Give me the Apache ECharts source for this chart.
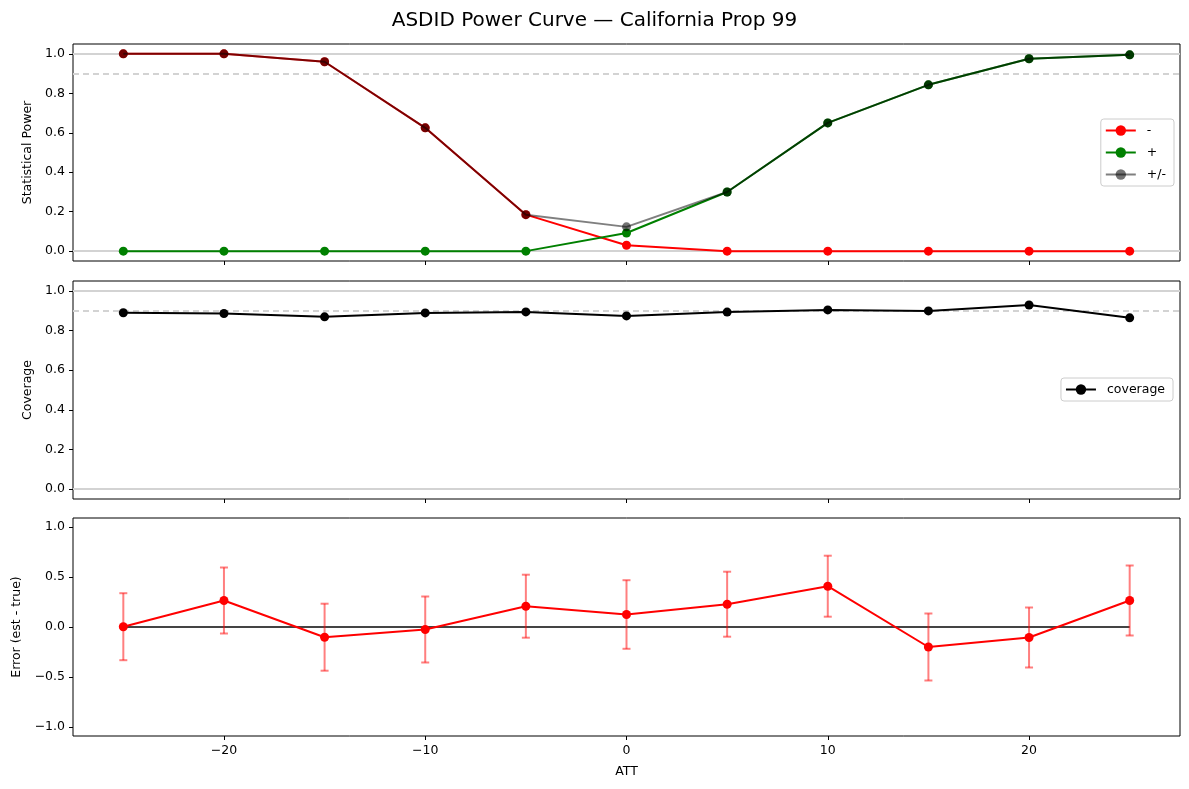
<!DOCTYPE html>
<html>
<head>
<meta charset="utf-8">
<title>ASDID Power Curve</title>
<script src="https://cdn.jsdelivr.net/npm/echarts@6/dist/echarts.min.js"></script>
<style>
    html, body { margin: 0; padding: 0; background: #fff; }
    #main { width: 1189px; height: 789px; }
</style>
</head>
<body>
<div id="main"></div>
<script type="text/javascript">
    // 数据
    var atts = [-25, -20, -15, -10, -5, 0, 5, 10, 15, 20, 25];
    var powerNeg = [1.0, 1.0, 0.96, 0.625, 0.185, 0.03, 0.0, 0.0, 0.0, 0.0, 0.0];
    var powerPos = [0.0, 0.0, 0.0, 0.0, 0.0, 0.092, 0.30, 0.65, 0.843, 0.975, 0.995];
    var powerBoth = [1.0, 1.0, 0.96, 0.625, 0.185, 0.123, 0.30, 0.65, 0.843, 0.975, 0.995];
    var coverage = [0.890, 0.886, 0.869, 0.889, 0.894, 0.874, 0.893, 0.904, 0.899, 0.929, 0.864];
    var errMean = [0.003, 0.265, -0.102, -0.025, 0.208, 0.125, 0.228, 0.408, -0.200, -0.105, 0.265];
    var errHalf = [0.335, 0.330, 0.335, 0.330, 0.315, 0.343, 0.325, 0.305, 0.335, 0.300, 0.350];

    var xTicks = [-20, -10, 0, 10, 20];
    var powerTicks = [0, 0.2, 0.4, 0.6, 0.8, 1.0];
    var errTicks = [-1, -0.5, 0, 0.5, 1];
    var refValues = [0, 1, 0.9];

    var FONT = 'DejaVu Sans';
    var chart = echarts.init(document.getElementById('main'));

    function pairs(ys) {
        return atts.map(function (x, i) { return [x, ys[i]]; });
    }

    function fmtNum(v, d) {
        var s = Math.abs(v).toFixed(d);
        return (v < 0 ? '\u2212' : '') + s;
    }

    // 三个子图的位置
    var grids = [
        {left: 73, top: 44, width: 1107, height: 217},
        {left: 73, top: 281, width: 1107, height: 218},
        {left: 73, top: 518, width: 1107, height: 218}
    ];
    grids.forEach(function (g) {
        g.show = true;
        g.borderColor = '#000';
        g.borderWidth = 1;
        g.backgroundColor = 'transparent';
        g.containLabel = false;
        g.outerBoundsMode = 'none';
    });

    function xAxis(idx, showLabel) {
        return {
            type: 'value', gridIndex: idx, min: -27.5, max: 27.5, position: 'bottom',
            name: showLabel ? 'ATT' : '',
            nameLocation: 'middle', nameGap: 29,
            nameTextStyle: {fontFamily: FONT, fontSize: 12.5, color: '#000'},
            axisLine: {show: false, onZero: false},
            splitLine: {show: false},
            axisTick: {show: true, customValues: xTicks, length: 4, lineStyle: {color: '#000'}},
            axisLabel: {
                show: showLabel, customValues: xTicks, margin: 8,
                fontFamily: FONT, fontSize: 12.5, color: '#000',
                formatter: function (v) { return fmtNum(v, 0); }
            }
        };
    }

    function yAxis(idx, name, lo, hi, ticks, gap) {
        return {
            type: 'value', gridIndex: idx, min: lo, max: hi, position: 'left',
            name: name, nameLocation: 'middle', nameGap: gap,
            nameTextStyle: {fontFamily: FONT, fontSize: 12.5, color: '#000'},
            axisLine: {show: false, onZero: false},
            splitLine: {show: false},
            axisTick: {show: true, customValues: ticks, length: 4, lineStyle: {color: '#000'}},
            axisLabel: {
                customValues: ticks, margin: 8,
                fontFamily: FONT, fontSize: 12.5, color: '#000',
                formatter: function (v) { return fmtNum(v, 1); }
            }
        };
    }

    // 参考线：0 和 1 实线，0.9 虚线（放在最底层）
    function refSeries(idx) {
        return {
            type: 'line', xAxisIndex: idx, yAxisIndex: idx, z: 1,
            data: atts.map(function (x) { return [x, 0]; }),
            symbol: 'none', lineStyle: {opacity: 0}, silent: true,
            markLine: {
                z: 1,
                silent: true, symbol: 'none', label: {show: false},
                animation: false,
                data: refValues.map(function (v) {
                    return {
                        yAxis: v,
                        lineStyle: {color: '#d3d3d3', width: 1.8, type: v === 0.9 ? [6, 4] : 'solid'}
                    };
                })
            }
        };
    }

    function lineSeries(name, idx, ys, color, markColor, z) {
        return {
            name: name, type: 'line', xAxisIndex: idx, yAxisIndex: idx, z: z,
            data: pairs(ys), symbol: 'circle', symbolSize: 9,
            lineStyle: {color: color, width: 2},
            itemStyle: {color: markColor},
            emphasis: {disabled: true}
        };
    }

    var legendBase = {
        orient: 'vertical',
        backgroundColor: 'rgba(255,255,255,0.8)',
        borderColor: '#cccccc', borderWidth: 1, borderRadius: 3,
        itemWidth: 30, itemHeight: 13, itemGap: 9,
        padding: [5, 8, 5, 4],
        textStyle: {fontFamily: FONT, fontSize: 12.5, color: '#000', padding: [0, 0, 0, 6]},
        selectedMode: false
    };

    chart.setOption({
        animation: false,
        title: {
            text: 'ASDID Power Curve \u2014 California Prop 99',
            left: 'center', top: 6,
            textStyle: {fontFamily: FONT, fontSize: 20, fontWeight: 'normal', color: '#000'}
        },
        legend: [
            Object.assign({}, legendBase, {data: ['-', '+', '+/-'], right: 15, top: 119}),
            Object.assign({}, legendBase, {data: ['coverage'], right: 16, top: 378})
        ],
        grid: grids,
        xAxis: [xAxis(0, false), xAxis(1, false), xAxis(2, true)],
        yAxis: [
            yAxis(0, 'Statistical Power', -0.05, 1.05, powerTicks, 38),
            yAxis(1, 'Coverage', -0.05, 1.05, powerTicks, 38),
            yAxis(2, 'Error (est - true)', -1.09, 1.09, errTicks, 49)
        ],
        series: [
            refSeries(0),
            lineSeries('-', 0, powerNeg, '#ff0000', '#ff0000', 2),
            lineSeries('+', 0, powerPos, '#008000', '#008000', 3),
            lineSeries('+/-', 0, powerBoth, 'rgba(0,0,0,0.5)', 'rgba(0,0,0,0.55)', 4),

            refSeries(1),
            lineSeries('coverage', 1, coverage, '#000', '#000', 2),

            // 误差 0 线
            {
                type: 'line', xAxisIndex: 2, yAxisIndex: 2, z: 1,
                data: atts.map(function (x) { return [x, 0]; }),
                symbol: 'none', lineStyle: {color: '#444', width: 2.2}, silent: true
            },
            // 误差棒
            {
                type: 'custom', xAxisIndex: 2, yAxisIndex: 2, z: 2,
                data: atts.map(function (x, i) {
                    return [x, errMean[i] - errHalf[i], errMean[i] + errHalf[i]];
                }),
                renderItem: function (params, api) {
                    var lo = api.coord([api.value(0), api.value(1)]);
                    var hi = api.coord([api.value(0), api.value(2)]);
                    var cap = 4;
                    var st = {stroke: 'rgba(255,0,0,0.5)', lineWidth: 2};
                    return {
                        type: 'group',
                        children: [
                            {type: 'line', shape: {x1: lo[0], y1: lo[1], x2: hi[0], y2: hi[1]}, style: st},
                            {type: 'line', shape: {x1: lo[0] - cap, y1: lo[1], x2: lo[0] + cap, y2: lo[1]}, style: st},
                            {type: 'line', shape: {x1: hi[0] - cap, y1: hi[1], x2: hi[0] + cap, y2: hi[1]}, style: st}
                        ]
                    };
                },
                silent: true
            },
            {
                type: 'line', xAxisIndex: 2, yAxisIndex: 2, z: 3,
                data: pairs(errMean), symbol: 'circle', symbolSize: 9,
                lineStyle: {color: '#ff0000', width: 2},
                itemStyle: {color: '#ff0000'},
                emphasis: {disabled: true}
            }
        ]
    });
</script>
</body>
</html>
